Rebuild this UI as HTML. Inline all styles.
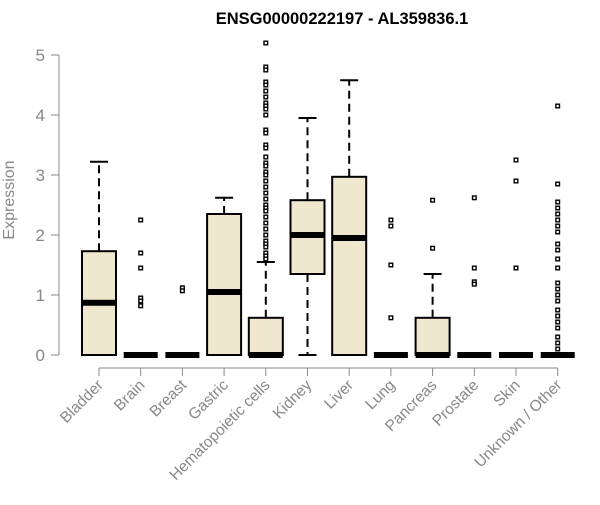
<!DOCTYPE html>
<html><head><meta charset="utf-8"><style>body{margin:0;background:#fff}svg{font-family:"Liberation Sans",sans-serif}</style></head>
<body>
<svg id="c" width="600" height="500">
<text x="342" y="24" text-anchor="middle" font-weight="bold" font-size="16.5">ENSG00000222197 - AL359836.1</text>
<text transform="translate(14,200) rotate(-90)" text-anchor="middle" font-size="16" fill="#888">Expression</text>
<g id="g"></g>
</svg>
<script>
const categories=["Bladder","Brain","Breast","Gastric","Hematopoietic cells","Kidney","Liver","Lung","Pancreas","Prostate","Skin","Unknown / Other"];
const q1=[0,0,0,0,0,1.35,0,0,0,0,0,0];
const medians=[0.87,0,0,1.05,0,2.0,1.95,0,0,0,0,0];
const q3=[1.73,0,0,2.35,0.62,2.58,2.97,0,0.62,0,0,0];
const whiskLow=[0,0,0,0,0,0,0,0,0,0,0,0];
const whiskHigh=[3.22,0,0,2.62,1.55,3.95,4.58,0,1.35,0,0,0];
const outliers=[[],[2.25,1.7,1.45,0.95,0.9,0.82],[1.12,1.07],[],
[5.2,4.8,4.75,4.55,4.5,4.4,4.3,4.2,4.15,4.1,4.0,3.75,3.7,3.5,3.45,3.3,3.2,3.15,3.05,3.0,2.9,2.8,2.7,2.6,2.5,2.45,2.4,2.3,2.2,2.1,2.0,1.9,1.85,1.8,1.7,1.65,1.6],
[],[],[2.25,2.15,1.5,0.62],[2.58,1.78],[2.62,1.45,1.22,1.18],[3.25,2.9,1.45],
[4.15,2.85,2.55,2.45,2.35,2.25,2.15,2.05,1.85,1.75,1.6,1.45,1.2,1.1,1.0,0.9,0.75,0.65,0.55,0.45,0.3,0.2,0.1]];
const yTicks=[0,1,2,3,4,5];
const NS="http://www.w3.org/2000/svg",g=document.getElementById('g');
const y=v=>355-60*v, x=i=>99+i*41.7;
function mk(t,a,p){const e=document.createElementNS(NS,t);for(const k in a)e.setAttribute(k,a[k]);(p||g).appendChild(e);return e;}
let ax=mk('path',{d:`M59,${y(0)}V${y(5)}`,stroke:'#888',fill:'none'});

yTicks.forEach(t=>{mk('line',{x1:51,x2:59,y1:y(t),y2:y(t),stroke:'#888'});
let l=mk('text',{x:45,y:y(t)+6,'text-anchor':'end','font-size':17,fill:'#888'});l.textContent=t;
});
let xa=mk('line',{x1:x(0),x2:x(11),y1:368,y2:368,stroke:'#888'});

const hw=17;
categories.forEach((c,i)=>{const cx=x(i);
mk('line',{x1:cx,x2:cx,y1:368,y2:376,stroke:'#888'});
let l=mk('text',{transform:`translate(${cx+5},${386}) rotate(-45)`,'text-anchor':'end','font-size':15.5,fill:'#888'});l.textContent=c;

const bg=mk('g',{});
if(whiskHigh[i]>q3[i]){mk('line',{x1:cx,x2:cx,y1:y(q3[i]),y2:y(whiskHigh[i]),stroke:'#000','stroke-width':2,'stroke-dasharray':'8,5'},bg);
mk('line',{x1:cx-9,x2:cx+9,y1:y(whiskHigh[i]),y2:y(whiskHigh[i]),stroke:'#000','stroke-width':2},bg);}
if(whiskLow[i]<q1[i]){mk('line',{x1:cx,x2:cx,y1:y(q1[i]),y2:y(whiskLow[i]),stroke:'#000','stroke-width':2,'stroke-dasharray':'8,5'},bg);
mk('line',{x1:cx-9,x2:cx+9,y1:y(whiskLow[i]),y2:y(whiskLow[i]),stroke:'#000','stroke-width':2},bg);}
if(q3[i]>q1[i])mk('rect',{x:cx-hw,y:y(q3[i]),width:2*hw,height:y(q1[i])-y(q3[i]),fill:'#efe8cf',stroke:'#000','stroke-width':2},bg);
mk('line',{x1:cx-hw,x2:cx+hw,y1:y(medians[i]),y2:y(medians[i]),stroke:'#000','stroke-width':6},bg);
outliers[i].forEach(v=>{const p=mk('rect',{x:cx-1.8,y:y(v)-1.8,width:3.6,height:3.6,fill:'#fff',stroke:'#000','stroke-width':1.4},bg);
});
});
</script>
</body></html>
